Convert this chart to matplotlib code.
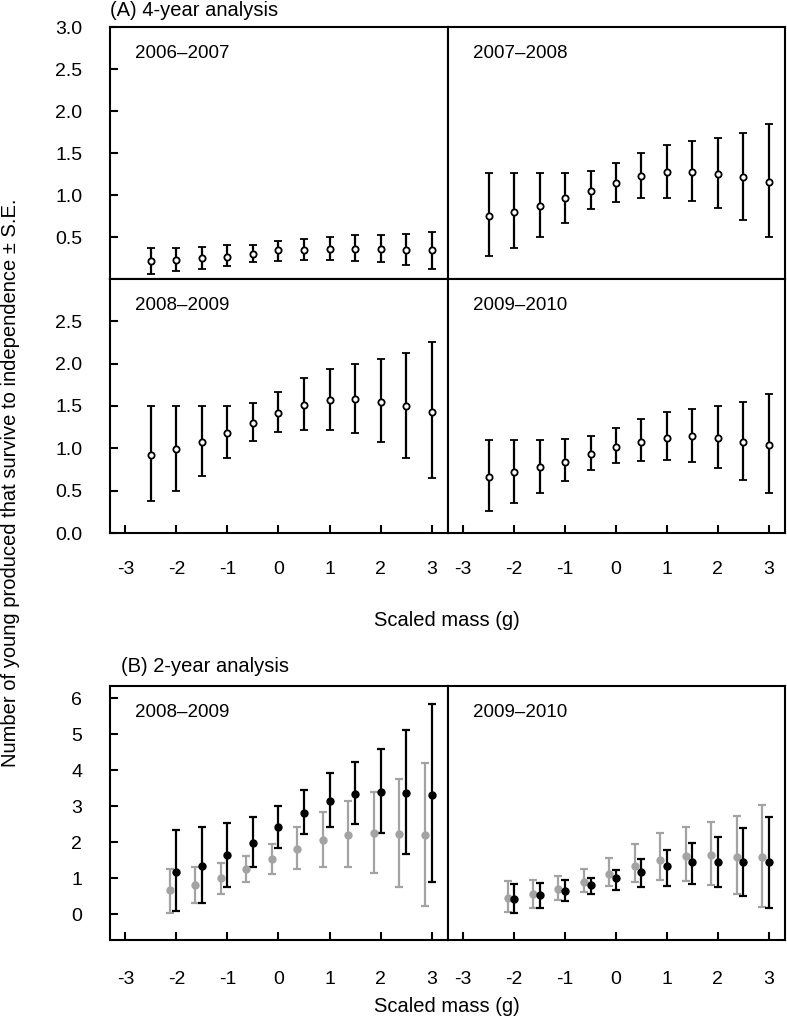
import numpy as np
import matplotlib.pyplot as plt

plt.rcParams['font.family'] = ['Liberation Sans', 'DejaVu Sans']

# (A) 4-year analysis: scaled mass positions and estimates with upper/lower S.E.
x4 = [-2.5, -2, -1.5, -1, -0.5, 0, 0.5, 1, 1.5, 2, 2.5, 3]

y0607 = [0.21, 0.23, 0.25, 0.26, 0.30, 0.34, 0.35, 0.36, 0.36, 0.36, 0.35, 0.34]
hi0607 = [0.37, 0.37, 0.385, 0.40, 0.41, 0.45, 0.48, 0.50, 0.52, 0.52, 0.53, 0.56]
lo0607 = [0.06, 0.095, 0.12, 0.16, 0.20, 0.22, 0.23, 0.23, 0.22, 0.20, 0.17, 0.12]

y0708 = [0.75, 0.80, 0.865, 0.96, 1.05, 1.14, 1.23, 1.27, 1.27, 1.25, 1.21, 1.16]
hi0708 = [1.26, 1.26, 1.26, 1.26, 1.29, 1.38, 1.50, 1.59, 1.64, 1.68, 1.74, 1.84]
lo0708 = [0.27, 0.37, 0.50, 0.67, 0.83, 0.92, 0.96, 0.96, 0.93, 0.85, 0.70, 0.50]

y0809 = [0.92, 0.99, 1.08, 1.18, 1.30, 1.42, 1.51, 1.57, 1.58, 1.55, 1.50, 1.435]
hi0809 = [1.495, 1.495, 1.495, 1.495, 1.53, 1.66, 1.83, 1.94, 2.00, 2.05, 2.13, 2.26]
lo0809 = [0.38, 0.50, 0.67, 0.89, 1.09, 1.19, 1.22, 1.22, 1.18, 1.08, 0.89, 0.65]

y0910 = [0.66, 0.72, 0.78, 0.84, 0.93, 1.02, 1.08, 1.12, 1.14, 1.12, 1.08, 1.04]
hi0910 = [1.10, 1.10, 1.10, 1.11, 1.14, 1.24, 1.35, 1.43, 1.47, 1.50, 1.55, 1.64]
lo0910 = [0.26, 0.35, 0.47, 0.62, 0.75, 0.83, 0.85, 0.86, 0.84, 0.77, 0.63, 0.47]

# (B) 2-year analysis: black and grey series
x2 = [-2, -1.5, -1, -0.5, 0, 0.5, 1, 1.5, 2, 2.5, 3]
grey_shift = -0.13

b0809 = [1.18, 1.34, 1.64, 1.99, 2.42, 2.82, 3.14, 3.35, 3.39, 3.37, 3.32]
b0809_hi = [2.33, 2.43, 2.52, 2.69, 3.00, 3.45, 3.91, 4.22, 4.60, 5.13, 5.83]
b0809_lo = [0.08, 0.32, 0.76, 1.31, 1.84, 2.22, 2.43, 2.51, 2.26, 1.66, 0.88]
g0809 = [0.66, 0.80, 0.99, 1.24, 1.53, 1.82, 2.06, 2.20, 2.26, 2.22, 2.20]
g0809_hi = [1.26, 1.32, 1.42, 1.61, 1.96, 2.43, 2.83, 3.14, 3.40, 3.76, 4.21]
g0809_lo = [0.04, 0.30, 0.57, 0.90, 1.12, 1.24, 1.30, 1.30, 1.15, 0.76, 0.23]

b0910 = [0.43, 0.52, 0.65, 0.81, 0.99, 1.18, 1.33, 1.44, 1.45, 1.45, 1.44]
b0910_hi = [0.84, 0.87, 0.94, 1.01, 1.22, 1.52, 1.78, 1.97, 2.15, 2.39, 2.69]
b0910_lo = [0.04, 0.16, 0.36, 0.56, 0.68, 0.75, 0.79, 0.84, 0.75, 0.51, 0.17]
g0910 = [0.46, 0.57, 0.71, 0.90, 1.11, 1.34, 1.51, 1.62, 1.65, 1.60, 1.58]
g0910_hi = [0.93, 0.96, 1.05, 1.24, 1.56, 1.94, 2.25, 2.41, 2.55, 2.74, 3.03]
g0910_lo = [0.06, 0.18, 0.39, 0.62, 0.78, 0.89, 0.94, 0.93, 0.81, 0.56, 0.20]

W, H = 787, 1032
fig = plt.figure(figsize=(W / 100, H / 100), dpi=100)
FS = 14.5


def make_ax(x0, y0, x1, y1):
    # pixel box (from top-left) -> figure fractions
    return fig.add_axes([x0 / W, 1 - y1 / H, (x1 - x0) / W, (y1 - y0) / H])


def style(ax, ylim, yticks, ylabels, xt, xpad=20):
    ax.set_xlim(-3.3, 3.32)
    ax.set_ylim(*ylim)
    for s in ax.spines.values():
        s.set_linewidth(1.5)
    ax.tick_params(direction='in', length=6, width=1.5, labelsize=14)
    if yticks is None:
        ax.set_yticks([])
    else:
        ax.set_yticks(yticks)
        ax.set_yticklabels(ylabels)
        ax.tick_params(axis='y', pad=20)
    if xt:
        ax.set_xticks([-3, -2, -1, 0, 1, 2, 3])
        ax.set_xticklabels(['-3', '-2', '-1', '0', '1', '2', '3'])
        ax.tick_params(axis='x', pad=xpad)
    else:
        ax.set_xticks([])


def open_pts(ax, x, y, hi, lo):
    y = np.array(y)
    err = [y - np.array(lo), np.array(hi) - y]
    ax.errorbar(x, y, yerr=err, fmt='o', color='black', ms=4.5, mfc='white',
                mec='black', mew=1.3, elinewidth=1.6, capsize=3, capthick=1.6)


def solid_pts(ax, x, y, hi, lo, c):
    y = np.array(y)
    err = [y - np.array(lo), np.array(hi) - y]
    ax.errorbar(x, y, yerr=err, fmt='o', color=c, ms=5, elinewidth=1.6,
                capsize=3, capthick=1.6)


top_t = [0.5, 1.0, 1.5, 2.0, 2.5, 3.0]
mid_t = [0.0, 0.5, 1.0, 1.5, 2.0, 2.5]

ax1 = make_ax(110, 27, 448, 279)
style(ax1, (0, 3), top_t, ['%.1f' % v for v in top_t], False)
open_pts(ax1, x4, y0607, hi0607, lo0607)

ax2 = make_ax(448, 27, 785, 279)
style(ax2, (0, 3), None, None, False)
open_pts(ax2, x4, y0708, hi0708, lo0708)

ax3 = make_ax(110, 279, 448, 533)
style(ax3, (0, 3), mid_t, ['%.1f' % v for v in mid_t], True)
open_pts(ax3, x4, y0809, hi0809, lo0809)

ax4 = make_ax(448, 279, 785, 533)
style(ax4, (0, 3), None, None, True)
open_pts(ax4, x4, y0910, hi0910, lo0910)

bt = [0, 1, 2, 3, 4, 5, 6]
xg = [v + grey_shift for v in x2]

ax5 = make_ax(110, 686, 448, 940)
style(ax5, (-0.72, 6.34), bt, [str(v) for v in bt], True, xpad=22)
solid_pts(ax5, xg, g0809, g0809_hi, g0809_lo, '#a3a3a3')
solid_pts(ax5, x2, b0809, b0809_hi, b0809_lo, 'black')

ax6 = make_ax(448, 686, 785, 940)
style(ax6, (-0.72, 6.34), None, None, True, xpad=22)
solid_pts(ax6, xg, g0910, g0910_hi, g0910_lo, '#a3a3a3')
solid_pts(ax6, x2, b0910, b0910_hi, b0910_lo, 'black')

# panel labels
for ax, lab in [(ax1, '2006–2007'), (ax2, '2007–2008'), (ax3, '2008–2009'),
                (ax4, '2009–2010'), (ax5, '2008–2009'), (ax6, '2009–2010')]:
    ax.text(0.075, 0.895, lab, transform=ax.transAxes, fontsize=13.5,
            va='center', ha='left')

fig.text(110 / W, 1 - 10 / H, '(A) 4-year analysis', fontsize=FS,
         ha='left', va='center')
fig.text(121 / W, 1 - 667 / H, '(B) 2-year analysis', fontsize=FS,
         ha='left', va='center')
fig.text(447 / W, 1 - 620 / H, 'Scaled mass (g)', fontsize=FS,
         ha='center', va='center')
fig.text(447 / W, 1 - 1007 / H, 'Scaled mass (g)', fontsize=FS,
         ha='center', va='center')
fig.text(11 / W, 1 - 483 / H,
         'Number of young produced that survive to independence ± S.E.',
         fontsize=FS, rotation=90, ha='center', va='center')

fig.savefig('out.png', dpi=100)
